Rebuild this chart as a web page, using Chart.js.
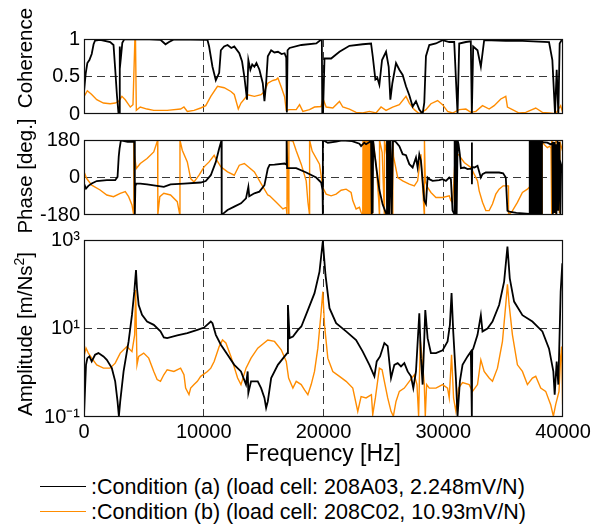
<!DOCTYPE html>
<html>
<head>
<meta charset="utf-8">
<script src="https://cdn.jsdelivr.net/npm/chart.js@4.4.1/dist/chart.umd.min.js"></script>
<style>
  html, body { margin: 0; padding: 0; background: #fff; }
  body { width: 599px; height: 532px; position: relative; overflow: hidden;
         font-family: "Liberation Sans", Arial, Helvetica, sans-serif; color: #000; }
  canvas { position: absolute; left: 0; }
  .ylab { position: absolute; white-space: nowrap; font-size: 20.5px; line-height: 1;
          transform: translate(-50%, -50%) rotate(-90deg); }
  .ylab sup { font-size: 0.68em; vertical-align: 0.55em; line-height: 0; }
  #xlab { position: absolute; left: 323px; top: 453px; transform: translate(-50%, -50%);
          font-size: 23px; white-space: nowrap; }
  .leg { position: absolute; left: 0; height: 26px; }
  .leg .swatch { position: absolute; left: 40px; top: 12px; width: 46px; height: 0; border-top: 1.5px solid; }
  .leg .txt { position: absolute; left: 91px; top: 0; font-size: 21.5px; line-height: 26px; white-space: nowrap; }
</style>
</head>
<body>
<canvas id="coh" width="599" height="130" style="top:0px;width:599px;height:130px"></canvas>
<canvas id="phs" width="599" height="100" style="top:128px;width:599px;height:100px"></canvas>
<canvas id="amp" width="599" height="222" style="top:228px;width:599px;height:222px"></canvas>

<div class="ylab" style="left:25px;top:58px">Coherence</div>
<div class="ylab" style="left:25px;top:176px">Phase [deg.]</div>
<div class="ylab" style="left:25px;top:334px">Amplitude [m/Ns<sup>2</sup>]</div>
<div id="xlab">Frequency [Hz]</div>
<div id="legend"></div>

<script>
// ---- axis ticks ----
const freqTicks = [0, 10000, 20000, 30000, 40000];
const cohTicks = [0, 0.5, 1];
const phaseTicks = [-180, 0, 180];
const ampTicks = [0.1, 10, 1000];
const ampTickLabels = ['10\u207B\u00B9', '10\u00B9', '10\u00B3'];

// ---- legend entries ----
const seriesNames = [
  ':Condition (a) (load cell: 208A03, 2.248mV/N)',
  ':Condition (b) (load cell: 208C02, 10.93mV/N)'
];
const seriesColors = ['#000000', '#ff8c00'];

// ---- coherence [frequency Hz, coherence] ----
const cohA = [
  [0,0.3],[150,0.55],[280,0.68],[450,0.72],[644,0.8],[800,0.93],[924,0.98],[1345,0.99],[2185,0.96],
  [2465,0.92],[2605,0.6],[2750,0.25],[2885,0.0],[2960,0.0],[2975,0.9],[3000,0.6],[3081,0.75],
  [3200,0.95],[3361,0.995],[5000,1.0],[6386,0.99],[6806,0.93],[7100,0.96],[7507,0.995],[10308,0.99],
  [10448,0.9],[10728,0.63],[11008,0.45],[11150,0.5],[11288,0.55],[11428,0.85],[11700,0.9],[11988,0.92],
  [12300,0.88],[12548,0.9],[12968,0.81],[13200,0.7],[13389,0.5],[13613,0.19],[13725,0.72],[13893,0.59],
  [14050,0.66],[14229,0.63],[14400,0.68],[14649,0.59],[14929,0.41],[15069,0.17],[15209,0.41],[15349,0.77],
  [15629,0.85],[15900,0.82],[16200,0.83],[16500,0.8],[16750,0.81],[16890,0.75],[16940,0.02],[17000,0.85],
  [17166,0.88],[18150,0.92],[19400,0.94],[19860,1.0],[19900,0.0],[19960,0.0],[20083,0.74],[20638,0.74],
  [21333,0.83],[22166,0.91],[23277,0.93],[23972,0.94],[24111,0.77],[24333,0.46],[24500,0.48],
  [24666,0.39],[24889,0.72],[25222,0.83],[25444,0.63],[25583,0.19],[25750,0.41],[26055,0.68],
  [26333,0.59],[26611,0.52],[26888,0.37],[27166,0.25],[27444,0.10],[27722,0.17],[28000,0.06],
  [28278,0.0],[28416,0.15],[28555,0.77],[28833,0.92],[29388,0.94],[29944,0.985],[30500,0.96],
  [30916,0.96],[31194,0.0],[31333,0.94],[31888,0.96],[32300,0.97],[32388,0.0],[32500,0.9],
  [32861,0.85],[33139,0.63],[33416,0.985],[35222,0.975],[36611,0.975],[38833,0.96],[39111,0.72],
  [39333,0.0],[39472,0.59],[39611,0.0],[39722,0.94],[39888,0.985],[40000,0.985]
];
const cohB = [
  [0,0.23],[280,0.31],[644,0.26],[1065,0.19],[1625,0.146],[2185,0.137],[2605,0.146],[2885,0.168],
  [3165,0.235],[3445,0.19],[3866,0.093],[4090,0.124],[4250,1.0],[4300,0.99],[4370,0.049],
  [4700,0.093],[5266,0.066],[5826,0.049],[6946,0.049],[8067,0.066],[8347,0.093],[8627,0.035],
  [9187,0.049],[9747,0.08],[10168,0.111],[10588,0.235],[11148,0.37],[11708,0.35],[12268,0.3],
  [12548,0.26],[12885,0.066],[13109,0.146],[13529,0.226],[13669,0.257],[14229,0.235],[14789,0.257],
  [15069,0.3],[15349,0.411],[15769,0.447],[16055,0.46],[16190,0.48],[16472,0.36],[16750,0.23],
  [16890,0.05],[17166,0.058],[17722,0.058],[18000,0.124],[18277,0.035],[18833,0.058],[19250,0.093],
  [19805,0.1],[19944,0.21],[20222,0.093],[20777,0.08],[21333,0.168],[21611,0.093],[22166,0.066],
  [22722,0.022],[23277,0.013],[23833,0.035],[24389,0.013],[24805,0.093],[25222,0.049],[25777,0.093],
  [26333,0.124],[26888,0.235],[27166,0.146],[27583,0.058],[28000,0.004],[28555,0.058],[28972,0.137],
  [29527,0.18],[29944,0.124],[30361,0.035],[30777,0.013],[31333,0.058],[31888,0.066],[32305,0.022],
  [32722,0.035],[33278,0.111],[33833,0.066],[34250,0.111],[34805,0.2],[35222,0.235],[35361,0.093],
  [35777,0.058],[36333,0.013],[36888,0.022],[37722,0.08],[38278,0.022],[38833,0.013],[39388,0.004],
  [39805,0.111],[40000,0.004]
];

// ---- phase [frequency Hz, degrees] ----
const phaseA = [
  [0,-29],[168,-53],[364,-40],[644,-29],[1065,-17],[1905,-13],[2605,-13],[2801,3],[2900,100],
  [2969,139],[3081,178],[3641,171],[4200,171],[4240,178],[4250,-178],[4290,-40],[4370,-29],
  [4700,-29],[5266,-33],[6106,-40],[6666,-45],[7227,-33],[8347,-29],[9747,-24],[10168,-17],
  [10588,11],[11008,75],[11288,139],[11484,179],[11500,-179],[11652,-172],[11988,-156],[12548,-140],
  [13109,-124],[13529,-100],[13725,-45],[13800,-90],[14229,-76],[14649,-68],[15069,-37],[15349,43],
  [15500,61],[15909,62],[16750,67],[16900,62],[16920,175],[16960,45],[17722,45],[18555,24],
  [19389,0],[19805,-24],[19920,-60],[19944,-179],[19950,179],[20083,175],[20361,167],[21055,172],
  [21555,178],[22389,175],[23000,162],[23139,151],[23400,167],[23555,160],[23972,175],[24000,-175],
  [24050,170],[24100,-170],[24150,175],[24250,120],[24450,30],[24666,-60],[24944,-130],[25222,-172],
  [25300,178],[25350,-178],[25450,178],[25500,-175],[25600,175],[25700,-178],[25800,178],[26055,170],
  [26333,150],[26611,112],[26888,107],[27166,64],[27444,48],[27722,96],[27861,48],[28000,111],
  [28138,80],[28277,-16],[28416,-111],[28555,-127],[28694,0],[28833,-8],[29111,-16],[29666,-13],
  [29944,-8],[30222,-16],[30500,0],[30639,-8],[30777,-159],[30916,-175],[30950,178],[31000,-178],
  [31055,178],[31120,-178],[31200,178],[31278,160],[31389,110],[31472,45],[31750,48],[32028,40],
  [32305,43],[32380,45],[32388,168],[32400,-32],[32420,50],[32600,48],[32861,56],[33139,0],
  [33278,16],[33555,24],[34111,24],[34666,24],[35000,20],[35222,0],[35361,-159],[35500,-164],
  [36111,-170],[36666,-172],[37166,-175],
  [37200,178],[37240,-178],[37280,178],[37320,-178],[37360,178],[37400,-178],[37440,178],
  [37480,-178],[37520,178],[37560,-178],[37600,178],[37640,-178],[37680,178],[37720,-178],
  [37760,178],[37800,-178],[37840,178],[37880,-178],[37920,178],[37960,-178],[38000,178],
  [38040,-178],[38080,178],[38120,-178],[38160,178],[38200,-178],[38240,178],
  [38278,170],[38694,167],[38972,159],[39111,165],[39150,-175],[39250,170],[39300,-170],[39400,160],
  [39450,-178],[39550,175],[39600,-160],[39700,170],[39780,-175],[39850,60],[39950,40],[40000,30]
];
const phaseB = [
  [0,27],[224,-5],[644,-37],[1345,-60],[1905,-84],[2465,-92],[3025,-76],[3445,-68],[3726,-92],
  [4006,-132],[4150,-179],[4160,179],[4230,100],[4370,43],[4700,67],[5266,91],[5826,123],[6150,179],
  [6165,-179],[6330,-92],[6666,-76],[7227,-84],[7787,-116],[8000,-179],[8015,179],[8207,131],
  [8627,75],[8907,-5],[9187,-21],[9607,11],[10028,51],[10448,75],[10868,107],[11008,91],[11428,51],
  [11988,27],[12548,11],[12968,59],[13389,67],[14229,27],[14789,-29],[15349,-84],[15500,-88],
  [16055,-119],[16611,-151],[16890,-143],[16950,-179],[16960,179],[17100,-179],[17110,179],
  [17450,175],[17722,128],[18139,64],[18555,-16],[18700,-119],[18833,-179],[18840,179],[19055,127],
  [19666,64],[19944,-48],[20222,-80],[20638,-88],[21055,-80],[21472,-61],[21888,-56],[22305,-72],
  [22444,-111],[22722,-151],[23000,-143],[23139,-167],[23278,-179],
  [23300,179],[23340,-179],[23380,179],[23420,-179],[23460,179],[23500,-179],[23540,179],
  [23580,-179],[23620,179],[23660,-179],[23700,179],[23740,-179],[23780,179],[23820,-179],
  [23860,179],[23900,-179],[23940,179],[23980,-179],[24020,179],[24060,-179],[24100,179],
  [24150,175],[24400,60],[24600,-100],[24667,-179],[24680,179],[24900,120],[25083,-179],[25090,179],
  [25300,100],[25500,-179],[25510,179],[25700,80],[25777,-179],[25790,179],[25850,100],[26194,0],
  [26611,-16],[27166,-32],[27583,-40],[27861,-16],[28138,111],[28277,-48],[28416,-179],[28430,179],
  [28500,-16],[28694,-48],[28972,-72],[29388,-96],[29944,-96],[30500,-88],[30639,-111],[30777,-119],
  [30850,-60],[31000,110],[31278,110],[31750,72],[32305,48],[32583,16],[32861,-16],[33000,-64],
  [33278,-119],[33555,-159],[33833,-159],[34111,-127],[34388,-80],[34666,-56],[35000,-40],
  [35440,-40],[35450,-179],[35700,-167],[36194,-119],[36611,-72],[37027,-56],[37166,-48],
  [37600,-100],[38139,-127],[38250,-179],[38260,179],[38416,159],[38694,143],[38900,150],
  [39000,140],[39050,-179],[39060,179],[39300,130],[39389,-179],[39400,179],[39600,160],
  [39700,-170],[39750,170],[40000,120]
];

// ---- amplitude [frequency Hz, m/Ns^2] ----
const ampA = [
  [0,0.11],[168,1.51],[280,2.14],[448,2.34],[644,1.8],[924,2.55],[1204,2.78],[1625,2.34],[1905,1.96],
  [2325,1.27],[2605,0.64],[2801,0.225],[2913,0.104],[3025,0.225],[3305,1.07],[3725,5.1],[4006,20.3],
  [4202,68],[4342,210],[4426,81],[4566,34],[4846,20.3],[5266,14.4],[5826,12.1],[6386,8.6],[6666,6.3],
  [6946,6.05],[7787,6.95],[8627,7.85],[9467,9.3],[10028,10.5],[10588,14.4],[10728,13.2],[11008,7.2],
  [11428,4.3],[11988,2.55],[12548,1.51],[13109,1.07],[13529,0.54],[13669,1.07],[13725,0.35],
  [13949,0.64],[14509,0.64],[14789,0.45],[15069,0.27],[15209,0.16],[15349,0.225],[15629,0.76],
  [16190,1.51],[16750,2.34],[16974,2.78],[17030,34],[17170,6.05],[17450,6.6],[17870,9.3],
  [18150,11.1],[18694,26],[19250,63],[19666,193],[19944,950],[20166,162],[20500,28.8],[21055,13.2],
  [21889,8.6],[22722,5.5],[23278,3.0],[23833,1.51],[24250,0.83],[24444,1.8],[24722,2.34],[25083,4.7],
  [25361,4.0],[25639,0.76],[25916,1.51],[26194,1.65],[26472,1.39],[26750,1.65],[27028,1.07],
  [27305,0.83],[27500,0.45],[27722,1.07],[28000,22],[28138,2.14],[28278,0.54],[28500,26],[28694,6.05],
  [28972,2.78],[29389,2.78],[29944,3.2],[30361,5.1],[30555,12.1],[30694,63],[30833,8.6],[31055,0.76],
  [31194,0.104],[31389,0.64],[31611,1.51],[32028,2.34],[32305,3.0],[32388,0.104],[32420,3.2],
  [32500,3.5],[32861,7.2],[33139,20],[33278,8.6],[33694,10],[34111,14.4],[34666,34],[35083,115],
  [35361,707],[35555,136],[35916,40.6],[36611,20],[37444,14.4],[38278,8.6],[38833,3.5],[39194,1.07],
  [39305,0.32],[39472,1.8],[39611,0.54],[39805,68],[39944,298],[40000,130]
];
const ampB = [
  [28,2.55],[168,3.6],[364,2.78],[644,2.14],[1065,1.51],[1625,1.27],[2185,1.27],[2605,1.65],
  [3025,2.78],[3585,3.9],[4006,3.0],[4230,7.2],[4314,74],[4426,1.51],[4566,2.34],[4986,2.78],
  [5406,2.14],[5826,1.07],[6106,0.7],[6386,0.64],[6666,0.9],[6946,1.17],[7507,1.07],[8067,1.27],
  [8347,0.9],[8487,0.45],[8767,0.32],[8907,0.45],[9187,0.54],[9467,0.64],[9747,0.83],[10308,1.07],
  [10588,1.27],[10868,1.8],[11288,3.9],[11568,5.5],[11848,4.7],[12268,2.34],[12828,0.76],[13109,0.54],
  [13529,1.27],[13949,2.14],[14509,3.6],[15349,5.5],[15909,5.1],[16470,3.3],[16890,1.8],[17086,0.76],
  [17444,0.45],[17722,0.64],[18139,0.54],[18416,0.41],[18694,0.32],[18972,0.54],[19250,1.07],
  [19527,3.6],[19805,24],[19944,68],[20083,12.1],[20361,2.14],[20777,1.07],[21333,0.83],[21889,0.64],
  [22444,0.45],[22861,0.134],[23139,0.29],[23555,0.27],[24000,0.32],[24111,0.113],[24333,0.27],
  [24666,1.27],[24889,1.17],[25083,0.64],[25361,0.27],[25639,0.134],[25833,0.104],[26055,0.225],
  [26333,0.38],[26750,0.45],[27166,0.64],[27583,0.9],[27805,0.54],[27944,0.104],[28083,5.5],
  [28278,1.51],[28416,0.54],[28500,0.104],[28611,0.54],[28833,0.45],[29389,0.45],[29944,0.54],
  [30361,0.45],[30500,0.27],[30694,2.55],[30861,0.27],[31055,0.134],[31278,0.45],[31611,0.6],
  [32166,0.54],[32444,0.38],[32861,0.54],[33139,1.96],[33416,1.07],[33833,0.76],[34111,0.64],
  [34527,1.27],[34944,5.1],[35222,35],[35361,100],[35500,35],[35777,7.2],[36194,1.51],[36611,1.07],
  [37028,0.54],[37444,0.76],[37722,0.83],[38139,0.45],[38555,0.38],[38972,0.19],[39194,0.104],
  [39388,0.19],[39666,0.38],[39805,2.3],[39888,3.9],[39970,0.19]
];

// ---- drawing ----
const FONT = { family: '"Liberation Sans", Arial, Helvetica, sans-serif', size: 20 };
const Y_AXIS_W = 84;
const PLOT_RIGHT_PAD = 36;

const toPoints = arr => arr.map(p => ({ x: p[0], y: p[1] }));

// dashed grid line only on interior ticks; the box is drawn separately
const interiorGrid = ticks => ctx =>
  (ctx.tick && ctx.tick.value !== ticks[0] && ctx.tick.value !== ticks[ticks.length - 1])
    ? '#3a3a3a' : 'rgba(0,0,0,0)';

const boxPlugin = {
  id: 'box',
  afterDraw(chart) {
    const a = chart.chartArea, c = chart.ctx;
    c.save();
    c.strokeStyle = '#111';
    c.lineWidth = 1.2;
    c.strokeRect(a.left + 0.5, a.top + 0.5, a.right - a.left - 1, a.bottom - a.top - 1);
    c.restore();
  }
};

function makePanel(padTop, padBottom, yScale, showFreq) {
  const xAxisH = showFreq ? 28 : 0;
  return {
    type: 'line',
    data: {
      datasets: [
        { data: toPoints(yScale.a), borderColor: seriesColors[0], borderWidth: 1.8,
          pointRadius: 0, tension: 0, fill: false },
        { data: toPoints(yScale.b), borderColor: seriesColors[1], borderWidth: 1.4,
          pointRadius: 0, tension: 0, fill: false }
      ]
    },
    options: {
      responsive: false,
      animation: false,
      devicePixelRatio: 1,
      events: [],
      layout: { padding: { left: 0, right: PLOT_RIGHT_PAD, top: padTop, bottom: padBottom } },
      plugins: { legend: { display: false }, tooltip: { enabled: false } },
      scales: {
        x: {
          type: 'linear', min: freqTicks[0], max: freqTicks[freqTicks.length - 1],
          afterBuildTicks: s => { s.ticks = freqTicks.map(v => ({ value: v })); },
          afterFit: s => { s.height = xAxisH; s.paddingLeft = 0; s.paddingRight = 0; },
          ticks: { display: showFreq, font: FONT, color: '#000', padding: 3,
                   maxRotation: 0, autoSkip: false, callback: v => String(v) },
          grid: { color: interiorGrid(freqTicks), lineWidth: 1, drawTicks: false },
          border: { display: false, dash: [8, 5] }
        },
        y: {
          type: yScale.type, min: yScale.ticks[0], max: yScale.ticks[yScale.ticks.length - 1],
          afterBuildTicks: s => { s.ticks = yScale.ticks.map(v => ({ value: v })); },
          afterFit: s => { s.width = Y_AXIS_W; s.paddingTop = 0; s.paddingBottom = 0; },
          ticks: { font: FONT, color: '#000', padding: 4, autoSkip: false,
                   callback: yScale.label },
          grid: { color: interiorGrid(yScale.ticks), lineWidth: 1, drawTicks: false },
          border: { display: false, dash: [8, 5] }
        }
      }
    },
    plugins: [boxPlugin]
  };
}

new Chart(document.getElementById('coh'), makePanel(39, 16, {
  type: 'linear', ticks: cohTicks, a: cohA, b: cohB, label: v => String(v)
}, false));

new Chart(document.getElementById('phs'), makePanel(12, 13, {
  type: 'linear', ticks: phaseTicks, a: phaseA, b: phaseB, label: v => String(v)
}, false));

new Chart(document.getElementById('amp'), makePanel(12, 5, {
  type: 'logarithmic', ticks: ampTicks, a: ampA, b: ampB,
  label: v => ampTickLabels[ampTicks.indexOf(v)] ?? ''
}, true));

// legend below the plots
const legend = document.getElementById('legend');
seriesNames.forEach((name, i) => {
  const row = document.createElement('div');
  row.className = 'leg';
  row.style.top = (474 + i * 25) + 'px';
  row.innerHTML = '<div class="swatch" style="border-color:' + seriesColors[i] + '"></div>' +
                  '<div class="txt"></div>';
  row.querySelector('.txt').textContent = name;
  legend.appendChild(row);
});
</script>
</body>
</html>
